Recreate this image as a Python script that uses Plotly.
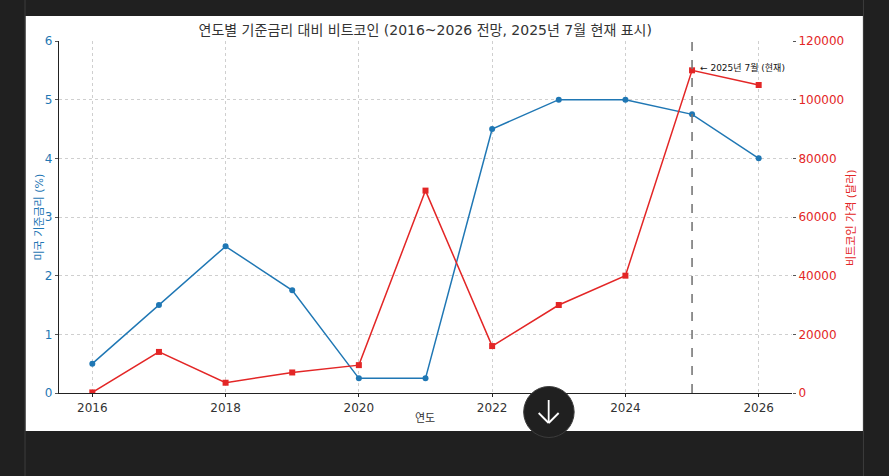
import plotly.graph_objects as go

years = [2016, 2017, 2018, 2019, 2020, 2021, 2022, 2023, 2024, 2025, 2026]
rate = [0.5, 1.5, 2.5, 1.75, 0.25, 0.25, 4.5, 5, 5, 4.75, 4]
price = [200, 14000, 3500, 7000, 9500, 69000, 16000, 30000, 40000, 110000, 105000]
title = "연도별 기준금리 대비 비트코인 (2016~2026 전망, 2025년 7월 현재 표시)"
left_title = "미국 기준금리 (%)"
right_title = "비트코인 가격 (달러)"
x_title = "연도"
note = "← 2025년 7월 (현재)"

W, H = 889, 476
L, R, T, B = 58.5, 792, 41, 393
BLUE, RED, DARK = "#1f77b4", "#e32626", "#202020"
FONT = "DejaVu Sans, Noto Sans CJK KR, sans-serif"

def px(x):
    return (x - L) / (R - L)

def py(y):
    return (B - y) / (B - T)

fig = go.Figure()
fig.add_trace(go.Scatter(x=years, y=rate, mode="lines+markers", yaxis="y",
                         line=dict(color=BLUE, width=1.5),
                         marker=dict(symbol="circle", size=6, color=BLUE),
                         showlegend=False))
fig.add_trace(go.Scatter(x=years, y=price, mode="lines+markers", yaxis="y2",
                         line=dict(color=RED, width=1.5),
                         marker=dict(symbol="square", size=6, color=RED),
                         showlegend=False))

shapes = [
    dict(type="rect", xref="paper", yref="paper", x0=px(25), x1=px(863), y0=py(431), y1=py(16),
         fillcolor="white", line_width=0, layer="below"),
    dict(type="line", xref="paper", yref="paper", x0=px(24.5), x1=px(24.5), y0=py(476), y1=py(0),
         line=dict(color="#3c3c3c", width=1), layer="below"),
    dict(type="line", xref="paper", yref="paper", x0=px(863.5), x1=px(863.5), y0=py(476), y1=py(0),
         line=dict(color="#3c3c3c", width=1), layer="below"),
    dict(type="line", xref="x", yref="paper", x0=2025, x1=2025, y0=0, y1=1,
         line=dict(color="#777777", width=1.6, dash="dash"), layer="above"),
    dict(type="circle", xref="paper", yref="paper", x0=px(523.5), x1=px(574), y0=py(437.5), y1=py(386.5),
         fillcolor=DARK, line=dict(color="#3c3c3c", width=1), layer="above"),
    dict(type="line", xref="paper", yref="paper", x0=px(548.5), x1=px(548.5), y0=py(423), y1=py(400),
         line=dict(color="white", width=1.8), layer="above"),
    dict(type="line", xref="paper", yref="paper", x0=px(538.5), x1=px(548.5), y0=py(413), y1=py(423),
         line=dict(color="white", width=1.8), layer="above"),
    dict(type="line", xref="paper", yref="paper", x0=px(558.5), x1=px(548.5), y0=py(413), y1=py(423),
         line=dict(color="white", width=1.8), layer="above"),
]

grid = dict(showgrid=True, gridcolor="#cfcfcf", griddash="dot", gridwidth=0.8)
annotations = [
    dict(text=note, x=2025, y=110000, xref="x", yref="y2", xanchor="left", yanchor="middle",
         xshift=6, yshift=3, showarrow=False, font=dict(size=9, color="#111111")),
    dict(text=x_title, x=px(425), y=py(418), xref="paper", yref="paper", xanchor="center",
         yanchor="middle", showarrow=False, font=dict(size=11, color="#333333")),
    dict(text=left_title, x=px(38), y=py(217), xref="paper", yref="paper", xanchor="center",
         yanchor="middle", textangle=-90, showarrow=False, font=dict(size=11, color=BLUE)),
    dict(text=right_title, x=px(851), y=py(217), xref="paper", yref="paper", xanchor="center",
         yanchor="middle", textangle=-90, showarrow=False, font=dict(size=11, color=RED)),
]

fig.update_layout(
    width=W, height=H,
    margin=dict(l=L, r=W - R, t=T, b=H - B, pad=0),
    paper_bgcolor=DARK, plot_bgcolor="white",
    font=dict(family=FONT, size=12, color="#262626"),
    title=dict(text=title, x=(L + R) / 2 / W, xanchor="center", y=1 - 30 / H, yanchor="middle",
               font=dict(size=14, color="#333333")),
    xaxis=dict(range=[2015.5, 2026.5], tickvals=[2016, 2018, 2020, 2022, 2024, 2026], **grid,
               showline=True, linecolor="#222222", linewidth=1.3, ticks="outside", ticklen=3,
               tickcolor="#222222", zeroline=False, tickfont=dict(size=12, color="#333333")),
    yaxis=dict(range=[0, 6], dtick=1, **grid, showline=True, linecolor="#222222", linewidth=1.3,
               ticks="outside", ticklen=3, tickcolor="#555555", zeroline=False,
               tickfont=dict(size=12, color=BLUE)),
    yaxis2=dict(range=[0, 120000], dtick=20000, overlaying="y", side="right", showgrid=False,
                showline=False, ticks="outside", ticklen=3, tickcolor="#555555", zeroline=False,
                tickformat="d", tickfont=dict(size=12, color=RED)),
    shapes=shapes,
    annotations=annotations,
)

fig.write_html("out.html", config=dict(displayModeBar=False),
               post_script="document.body.style.margin='0';document.body.style.overflow='hidden';"
                           "document.documentElement.style.background='#202020';")
